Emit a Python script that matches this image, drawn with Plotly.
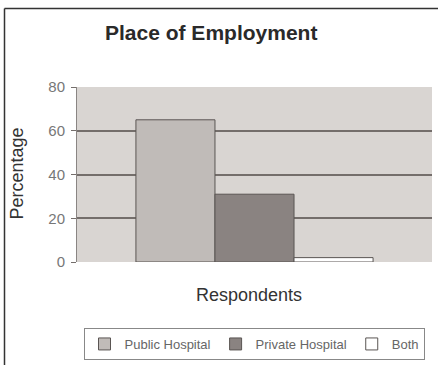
import plotly.graph_objects as go

# Survey data: share of respondents by place of employment (%)
categories = ["Respondents"]
series_names = ["Public Hospital", "Private Hospital", "Both"]
series_values = [[65], [31], [2]]
y_ticks = [0, 20, 40, 60, 80]

bar_colors = ["#c0bbb8", "#8a8381", "#ffffff"]

W, H = 438, 365
# plot area in pixels
L, R, T, B = 77, 432, 87, 263


def px_to_paper_x(px):
    return (px - L) / (R - L)


def px_to_paper_y(py):
    return (B - py) / (B - T)


fig = go.Figure()
for name, vals, col in zip(series_names, series_values, bar_colors):
    fig.add_trace(go.Bar(
        x=categories, y=vals, name=name,
        marker=dict(color=col, line=dict(color="#5a5553", width=1)),
    ))

fig.update_layout(
    width=W, height=H,
    margin=dict(l=L, r=W - R, t=T, b=H - B),
    paper_bgcolor="white",
    plot_bgcolor="#d9d5d2",
    barmode="group",
    bargap=0.332,
    bargroupgap=0,
    font=dict(family="Arial, Liberation Sans, sans-serif", size=12, color="#555"),
    showlegend=True,
    legend=dict(
        orientation="h",
        x=px_to_paper_x(254), xanchor="center",
        y=px_to_paper_y(328), yanchor="top",
        bordercolor="#888", borderwidth=1,
        font=dict(size=13, color="#666"),
        itemwidth=30,
        tracegroupgap=0,
    ),
    xaxis=dict(showticklabels=False, ticks="", showgrid=False, zeroline=False),
    yaxis=dict(
        range=[0, 80], tickvals=y_ticks,
        showgrid=True, gridcolor="#746e6b", gridwidth=1.5,
        ticks="outside", ticklen=5, tickcolor="#746e6b",
        showline=True, linecolor="#8a8583", linewidth=1,
        zeroline=False,
        tickfont=dict(size=15, color="#777"),
        ticklabelstandoff=3,
    ),
)

# Chart title
fig.add_annotation(
    text="<b>Place of Employment</b>", xref="paper", yref="paper",
    x=px_to_paper_x(211), y=px_to_paper_y(32),
    xanchor="center", yanchor="middle", showarrow=False,
    font=dict(size=21, color="#2a2a2a"),
)
# Axis titles
fig.add_annotation(
    text="Percentage", xref="paper", yref="paper",
    x=px_to_paper_x(17), y=px_to_paper_y(174), textangle=-90,
    xanchor="center", yanchor="middle", showarrow=False,
    font=dict(size=18, color="#333"),
)
fig.add_annotation(
    text="Respondents", xref="paper", yref="paper",
    x=px_to_paper_x(249), y=px_to_paper_y(296),
    xanchor="center", yanchor="middle", showarrow=False,
    font=dict(size=18, color="#333"),
)

# Outer chart frame (left and top edges)
fig.add_shape(type="line", xref="paper", yref="paper",
              x0=px_to_paper_x(4.5), x1=px_to_paper_x(4.5),
              y0=px_to_paper_y(8), y1=px_to_paper_y(370),
              line=dict(color="#333", width=1.5))
fig.add_shape(type="line", xref="paper", yref="paper",
              x0=px_to_paper_x(4.5), x1=px_to_paper_x(445),
              y0=px_to_paper_y(8), y1=px_to_paper_y(8),
              line=dict(color="#333", width=1.5))

fig.write_html("out.html")
